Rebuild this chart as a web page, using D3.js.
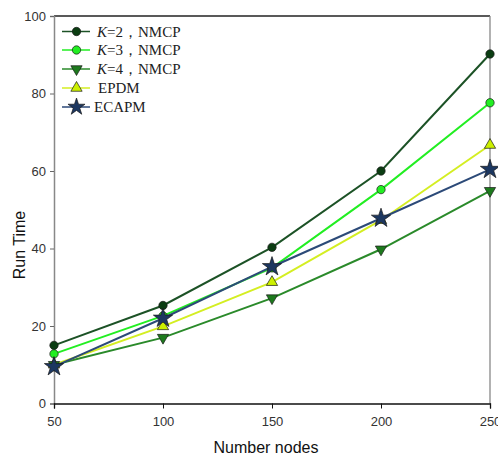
<!DOCTYPE html>
<html><head><meta charset="utf-8">
<script src="https://cdn.jsdelivr.net/npm/d3@7"></script>
<style>body{margin:0;background:#fff}svg{display:block}</style>
</head><body>
<script>
const nodes = [50, 100, 150, 200, 250];
const k2 = [15, 25.3, 40.3, 60, 90.2];
const k3 = [12.8, 22.6, 35, 55.2, 77.6];
const k4 = [10, 17, 27.2, 39.8, 54.9];
const epdm = [10, 19.9, 31.3, 47.3, 66.7];
const ecapm = [9.5, 22, 35.3, 47.8, 60.4];
const yTicks = [0, 20, 40, 60, 80, 100];
const xTicks = [50, 100, 150, 200, 250];

const series = [
  {k:"2", name:"NMCP", values:k2, line:"#1c5226", fill:"#0b3d12", shape:"circle"},
  {k:"3", name:"NMCP", values:k3, line:"#22ee22", fill:"#22ee22", shape:"circle"},
  {k:"4", name:"NMCP", values:k4, line:"#2a8a2a", fill:"#1d7a1d", shape:"down"},
  {k:null, name:"EPDM", values:epdm, line:"#d4ee22", fill:"#ccf000", shape:"up"},
  {k:null, name:"ECAPM", values:ecapm, line:"#2c4a78", fill:"#1c3760", shape:"star"}
];

const W = 498, H = 459;
const svg = d3.select("body").append("svg").attr("width", W).attr("height", H);
const x = d3.scaleLinear().domain([50, 250]).range([54, 490]);
const y = d3.scaleLinear().domain([0, 100]).range([403.5, 16]);

svg.append("line").attr("x1",54).attr("x2",490).attr("y1",16).attr("y2",16).attr("stroke","#222").attr("stroke-width",1.3);
svg.append("line").attr("x1",490).attr("x2",490).attr("y1",16).attr("y2",403.5).attr("stroke","#888").attr("stroke-width",1.3);

const font = "Liberation Sans, Arial, sans-serif";
const yAxis = svg.append("g").attr("transform","translate(54,0)")
  .call(d3.axisLeft(y).tickValues(yTicks).tickSize(4).tickPadding(4));
yAxis.select(".domain").attr("stroke","#888").attr("stroke-width",1.5);
yAxis.selectAll(".tick line").attr("stroke","#666");
yAxis.selectAll("text").attr("font-family",font).attr("font-size",13).attr("fill","#333");

const xAxis = svg.append("g").attr("transform","translate(0,403.5)")
  .call(d3.axisBottom(x).tickValues(xTicks).tickSize(5).tickPadding(8));
xAxis.select(".domain").attr("stroke","#111").attr("stroke-width",1.3);
xAxis.selectAll(".tick line").attr("stroke","#111");
xAxis.selectAll("text").attr("font-family",font).attr("font-size",13).attr("fill","#333");

svg.append("text").attr("x",266).attr("y",453).attr("text-anchor","middle")
  .attr("font-family",font).attr("font-size",16).attr("fill","#111").text("Number nodes");
svg.append("text").attr("transform","translate(25,245) rotate(-90)").attr("text-anchor","middle")
  .attr("font-family",font).attr("font-size",16).attr("fill","#111").text("Run Time");

function symbolPath(shape, legend){
  if(shape==="circle") return d3.symbol(d3.symbolCircle, 55)();
  if(shape==="up") return d3.symbol(d3.symbolTriangle, 55)();
  if(shape==="down") return d3.symbol(d3.symbolTriangle, 55)();
  if(shape==="star") return d3.symbol(d3.symbolStar, legend ? 90 : 115)();
}
function drawMarker(g, s, cx, cy, legend){
  g.append("path").attr("d", symbolPath(s.shape, legend))
   .attr("transform", `translate(${cx},${cy})` + (s.shape==="down"?" rotate(180)":""))
   .attr("fill", s.fill).attr("stroke", "#1a1a1a").attr("stroke-width", 0.7);
}

const line = d3.line().x((d,i)=>x(nodes[i])).y(d=>y(d));
series.forEach(s=>{
  svg.append("path").attr("d", line(s.values)).attr("fill","none")
    .attr("stroke", s.line).attr("stroke-width", 2);
});
const order = [0,1,3,2,4];
order.forEach(i=>{
  const s = series[i];
  const g = svg.append("g");
  s.values.forEach((v,j)=>drawMarker(g, s, x(nodes[j]), y(v), false));
});

const ly = [31.5, 50, 69, 88, 107];
series.forEach((s,i)=>{
  const g = svg.append("g");
  g.append("line").attr("x1",62).attr("x2",90).attr("y1",ly[i]).attr("y2",ly[i])
    .attr("stroke", s.line).attr("stroke-width",1.5);
  drawMarker(g, s, 76.5, ly[i], true);
  const t = g.append("text").attr("x", s.k ? 97 : (s.name==="EPDM"?98:94)).attr("y", ly[i]+5)
    .attr("font-family","Liberation Serif, Times New Roman, serif").attr("font-size",15).attr("fill","#222");
  if(s.k){
    t.append("tspan").attr("font-style","italic").text("K");
    t.append("tspan").text("=" + s.k + "，" + s.name);
  } else {
    t.text(s.name);
  }
});
</script>
</body></html>
